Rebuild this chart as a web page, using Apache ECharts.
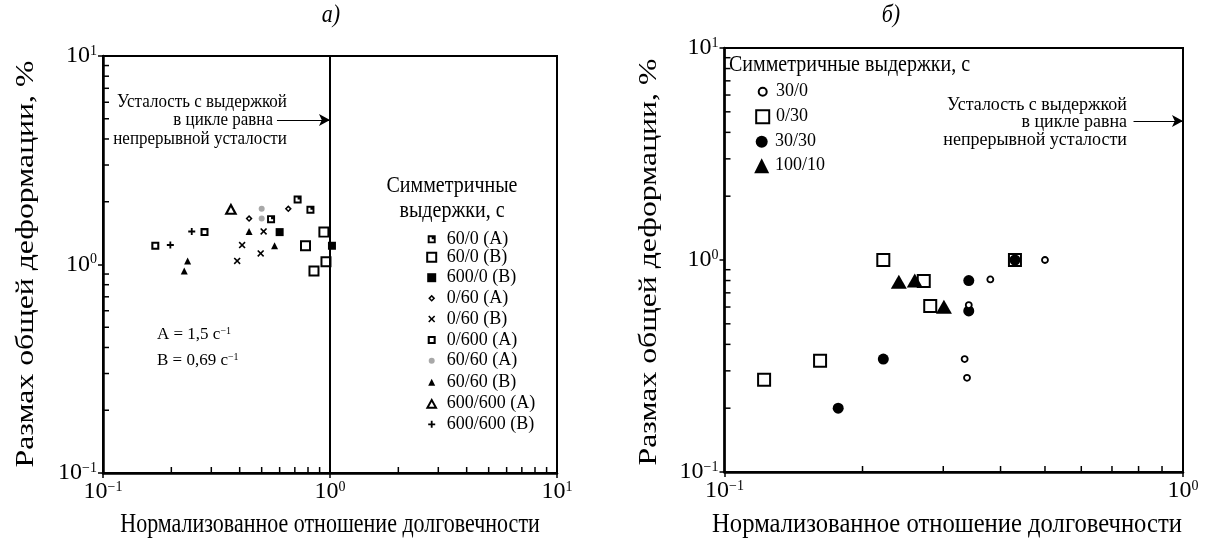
<!DOCTYPE html>
<html><head><meta charset="utf-8">
<script src="https://cdn.jsdelivr.net/npm/echarts@6/dist/echarts.min.js"></script>
<style>html,body{margin:0;padding:0;background:#fff}#c{width:1208px;height:541px}</style>
</head><body><div id="c"></div><script>
const FONT = 'Liberation Serif';

// ---- Panel а) data: [normalized life ratio, total strain range %]
const a_60_0_A   = [[0.72,2.05],[0.82,1.83],[0.55,1.65]];
const a_60_0_B   = [[0.94,1.43],[0.78,1.23],[0.96,1.03],[0.85,0.93]];
const a_600_0_B  = [[0.60,1.43],[1.02,1.23]];
const a_0_60_A   = [[0.44,1.66],[0.655,1.85]];
const a_0_60_B   = [[0.51,1.44],[0.41,1.24],[0.495,1.13],[0.39,1.04]];
const a_0_600_A  = [[0.28,1.43],[0.17,1.23]];
const a_60_60_A  = [[0.50,1.85],[0.50,1.66]];
const a_60_60_B  = [[0.44,1.44],[0.57,1.23],[0.236,1.04],[0.228,0.93]];
const a_600_600_A= [[0.366,1.85]];
const a_600_600_B= [[0.246,1.44],[0.198,1.24]];

// ---- Panel б) data
const b_30_0   = [[0.38,0.81],[0.341,0.613],[0.50,1.0],[0.334,0.341],[0.338,0.278]];
const b_0_30   = [[0.222,1.0],[0.1616,0.335],[0.122,0.272],[0.272,0.796],[0.281,0.607],[0.43,1.0]];
const b_30_30  = [[0.222,0.341],[0.177,0.20],[0.341,0.80],[0.341,0.575],[0.43,1.0]];
const b_100_10 = [[0.240,0.79],[0.260,0.80],[0.301,0.602]];

// minor tick multipliers and decades
const minorMult = [2,3,4,5,6,7,8,9];
const aDecades = [0.1, 1];
const bDecadesX = [0.1];
const bDecadesY = [0.1, 1];

// annotation arrows (data coords)
const aArrow = [[0.584,4.93],[1,4.93]];
const bArrow = [[0.78,4.52],[1,4.52]];

const P_CORNER_SQ = 'path://M0,0 H10 V10 H0 Z M2.4,2.4 V7.6 H7.6 V5 H5 V2.4 Z';
const P_SQ_RING_S = 'path://M0,0 H10 V10 H0 Z M2.6,2.6 V7.4 H7.4 V2.6 Z';
const P_SQ_RING_L = 'path://M0,0 H10 V10 H0 Z M1.8,1.8 V8.2 H8.2 V1.8 Z';
const P_DIAMOND = 'path://M5,0 L10,5 L5,10 L0,5 Z M5,3 L3,5 L5,7 L7,5 Z';
const P_CROSS = 'path://M0,1.6 L1.6,0 L5,3.4 L8.4,0 L10,1.6 L6.6,5 L10,8.4 L8.4,10 L5,6.6 L1.6,10 L0,8.4 L3.4,5 Z';
const P_PLUS = 'path://M3.7,0 H6.3 V3.7 H10 V6.3 H6.3 V10 H3.7 V6.3 H0 V3.7 H3.7 Z';
const P_TRI_RING = 'path://M5,0 L10,9 L0,9 Z M5,3.4 L2.8,7.4 L7.2,7.4 Z';

function supLabel(v){
  const e = Math.round(Math.log10(v));
  return '10{s|' + (e < 0 ? '\u2212' + (-e) : String(e)) + '}';
}
const richSup = { s: { fontSize: 14, lineHeight: 14, verticalAlign: 'top', fontFamily: FONT, color: '#000' } };

function logAxis(gi, min, max, isX){
  return {
    gridIndex: gi, type: 'log', logBase: 10, min: min, max: max,
    axisLine: { show: true, lineStyle: { color: '#000', width: 2.5 } },
    axisTick: { show: true, inside: false, length: 5, lineStyle: { color: '#000', width: 1.5 } },
    axisLabel: { formatter: supLabel, rich: richSup, fontSize: 24, lineHeight: 24, fontFamily: FONT, color: '#000', margin: isX ? 7 : 6 },
    splitLine: { show: false }, minorTick: { show: false }
  };
}

function minorX(decs, yPos){ const r=[]; decs.forEach(d=>minorMult.forEach(m=>r.push([d*m, yPos]))); return r; }
function minorY(decs, xPos){ const r=[]; decs.forEach(d=>minorMult.forEach(m=>r.push([xPos, d*m]))); return r; }

function sc(name, gi, data, symbol, size, style, z){
  return { name, type: 'scatter', xAxisIndex: gi, yAxisIndex: gi, data, symbol, symbolSize: size,
    itemStyle: Object.assign({ opacity: 1 }, style), z: z || 3, emphasis: { disabled: true }, animation: false };
}
const BLK = { color: '#000' };
const OPEN = { color: '#fff', borderColor: '#000', borderWidth: 2 };
const TICK = { color: '#000', opacity: 1 };

const series = [
  // panel a
  sc('60/0 (A)', 0, a_60_0_A, P_CORNER_SQ, 8, BLK),
  sc('60/0 (B)', 0, a_60_0_B, P_SQ_RING_L, 11, BLK),
  sc('600/0 (B)', 0, a_600_0_B, 'rect', 8, BLK),
  sc('0/60 (A)', 0, a_0_60_A, P_DIAMOND, 7, BLK),
  sc('0/60 (B)', 0, a_0_60_B, P_CROSS, 7, BLK),
  sc('0/600 (A)', 0, a_0_600_A, P_SQ_RING_S, 8, BLK),
  sc('60/60 (A)', 0, a_60_60_A, 'circle', 6, { color: '#a8a8a8' }),
  sc('60/60 (B)', 0, a_60_60_B, 'triangle', 7, BLK),
  sc('600/600 (A)', 0, a_600_600_A, P_TRI_RING, [13, 12], BLK),
  sc('600/600 (B)', 0, a_600_600_B, P_PLUS, 7, BLK),
  // panel b
  sc('0/30', 1, b_0_30, 'rect', 12, OPEN, 3),
  sc('100/10', 1, b_100_10, 'triangle', [16, 14], BLK, 4),
  sc('30/30', 1, b_30_30, 'circle', 11, BLK, 5),
  sc('30/0', 1, b_30_0, 'circle', 6, { color: '#fff', borderColor: '#000', borderWidth: 1.8 }, 6),
  // minor ticks + marker lines
  { name: 'ta-x', type: 'scatter', xAxisIndex: 0, yAxisIndex: 0, data: minorX(aDecades, 0.1), symbol: 'rect', symbolSize: [1.5, 6], symbolOffset: [0, -3], itemStyle: TICK, silent: true, animation: false,
    markLine: { silent: true, animation: false, symbol: ['none','none'], label: { show: false }, lineStyle: { color: '#000', width: 2, type: 'solid', opacity: 1 }, data: [{ xAxis: 1 }] } },
  { name: 'ta-y', type: 'scatter', xAxisIndex: 0, yAxisIndex: 0, data: minorY(aDecades, 0.1), symbol: 'rect', symbolSize: [6, 1.5], symbolOffset: [3, 0], itemStyle: TICK, silent: true, animation: false,
    markLine: { silent: true, animation: false, symbol: ['none','arrow'], symbolSize: [9, 11], label: { show: false }, lineStyle: { color: '#000', width: 1.2, type: 'solid', opacity: 1 },
      data: [[{ coord: aArrow[0] }, { coord: aArrow[1] }]] } },
  { name: 'tb-x', type: 'scatter', xAxisIndex: 1, yAxisIndex: 1, data: minorX(bDecadesX, 0.1), symbol: 'rect', symbolSize: [1.5, 6], symbolOffset: [0, -3], itemStyle: TICK, silent: true, animation: false },
  { name: 'tb-y', type: 'scatter', xAxisIndex: 1, yAxisIndex: 1, data: minorY(bDecadesY, 0.1), symbol: 'rect', symbolSize: [6, 1.5], symbolOffset: [3, 0], itemStyle: TICK, silent: true, animation: false,
    markLine: { silent: true, animation: false, symbol: ['none','arrow'], symbolSize: [9, 11], label: { show: false }, lineStyle: { color: '#000', width: 1.2, type: 'solid', opacity: 1 },
      data: [[{ coord: bArrow[0] }, { coord: bArrow[1] }]] } }
];

// legends: one component per entry for exact placement
function lg(name, cx, cy, s, textStart){
  const pad = textStart - (cx + s/2 + 5);
  return { data: [name], left: cx - s/2, top: cy - 10, itemWidth: s, itemHeight: s, padding: 0, itemGap: 0,
    selectedMode: false, orient: 'horizontal', itemStyle: { opacity: 1 },
    textStyle: { fontFamily: FONT, fontSize: 18, color: '#000', lineHeight: 20, padding: [0, 0, 0, Math.max(0, pad)] } };
}
const legA = [['60/0 (A)',239.3,8],['60/0 (B)',257.3,11],['600/0 (B)',277.7,9],['0/60 (A)',298.3,7],['0/60 (B)',319,7],
  ['0/600 (A)',340,8],['60/60 (A)',360.7,6],['60/60 (B)',382.3,7],['600/600 (A)',403.3,12],['600/600 (B)',424.3,7]];
const legB = [['30/0',91.7,8],['0/30',116.7,13],['30/30',141.7,12],['100/10',165.7,15]];
const legends = legA.map(e => lg(e[0], 431.7, e[1], e[2], 446.7)).concat(legB.map(e => lg(e[0], 761.7, e[1], e[2], 775)));

function txt(text, x, y, size, align, opts){
  opts = opts || {};
  return { type: 'text', x: x, y: y, rotation: opts.rotation || 0, scaleX: opts.sx || 1, scaleY: opts.sy || 1, silent: true,
    style: { text: text, fontFamily: FONT, fontSize: size, fontStyle: opts.italic ? 'italic' : 'normal', fill: '#000',
      align: align, textAlign: align, verticalAlign: 'middle', textVerticalAlign: 'middle', lineHeight: size,
      rich: { s: { fontSize: Math.round(size*0.6), lineHeight: Math.round(size*0.6), verticalAlign: 'top', fontFamily: FONT, fill: '#000' } } } };
}

const graphics = [
  txt('а)', 331, 16, 22, 'center', { italic: true, sy: 1.1 }),
  txt('б)', 891, 16, 22, 'center', { italic: true, sy: 1.1 }),
  txt('Размах общей деформации, %', 26, 264, 25, 'center', { rotation: Math.PI/2, sx: 1.27 }),
  txt('Размах общей деформации, %', 649, 262, 25, 'center', { rotation: Math.PI/2, sx: 1.27 }),
  txt('Нормализованное отношение долговечности', 330, 525, 22, 'center', { sy: 1.2 }),
  txt('Нормализованное отношение долговечности', 947, 525, 22, 'center', { sx: 1.12, sy: 1.2 }),
  txt('Симметричные', 452, 186, 20, 'center', { sy: 1.12 }),
  txt('выдержки, с', 452, 211, 20, 'center', { sy: 1.12 }),
  txt('Симметричные выдержки, с', 729, 65, 20, 'left', { sy: 1.12 }),
  txt('Усталость с выдержкой', 202, 102, 17, 'center', { sy: 1.1 }),
  txt('в цикле равна', 273, 120, 17, 'right', { sy: 1.1 }),
  txt('непрерывной усталости', 200, 139, 17, 'center', { sy: 1.1 }),
  txt('Усталость с выдержкой', 1127, 105, 18, 'right', { sy: 1.1 }),
  txt('в цикле равна', 1127, 122, 18, 'right', { sy: 1.1 }),
  txt('непрерывной усталости', 1127, 140, 18, 'right', { sy: 1.1 }),
  txt('A = 1,5 с{s|\u22121}', 157, 335, 17, 'left'),
  txt('B = 0,69 с{s|\u22121}', 157, 361, 17, 'left')
];

const option = {
  backgroundColor: '#fff',
  animation: false,
  grid: [
    { left: 103, top: 56, width: 454, height: 417, show: true, borderColor: '#000', borderWidth: 2, backgroundColor: 'transparent' },
    { left: 724.5, top: 48, width: 458.5, height: 424, show: true, borderColor: '#000', borderWidth: 2, backgroundColor: 'transparent' }
  ],
  xAxis: [ logAxis(0, 0.1, 10, true), logAxis(1, 0.1, 1, true) ],
  yAxis: [ logAxis(0, 0.1, 10, false), logAxis(1, 0.1, 10, false) ],
  legend: legends,
  graphic: graphics,
  series: series
};
const chart = echarts.init(document.getElementById('c'), null, { renderer: 'canvas' });
chart.setOption(option);
</script></body></html>
